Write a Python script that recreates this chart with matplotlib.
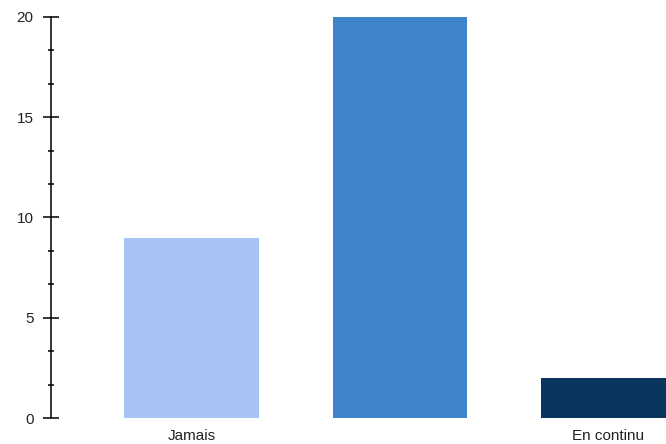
import matplotlib
matplotlib.use("Agg")
import matplotlib.pyplot as plt
from matplotlib.ticker import MultipleLocator

categories = ["Jamais", "", "En continu"]
values = [9, 20, 2]
colors = ["#A6C3F3", "#3F85C9", "#08365F"]

plt.rcParams['font.family'] = ['Liberation Sans', 'DejaVu Sans']

fig = plt.figure(figsize=(6.66, 4.44), dpi=100)
ax = fig.add_axes([51/666, 1 - 418/444, 1 - 51/666, (418 - 17)/444])

x = list(range(len(categories)))
ax.bar(x, values, width=0.647, color=colors)

ax.set_xlim(-0.674, 2.276)
ax.set_ylim(0, 20)
ax.set_xticks(x)
ax.set_xticklabels(categories, fontsize=11, color="#222222")
ax.tick_params(axis='x', length=0, pad=8)

ax.yaxis.set_major_locator(MultipleLocator(5))
ax.yaxis.set_minor_locator(MultipleLocator(5/3))
ax.tick_params(axis='y', which='major', direction='inout', length=11, width=1.1,
               labelsize=11, pad=7, labelcolor="#222222")
ax.tick_params(axis='y', which='minor', direction='inout', length=5, width=1.1)

for s in ['top', 'right', 'bottom']:
    ax.spines[s].set_visible(False)
ax.spines['left'].set_linewidth(1.1)

fig.savefig("out.png", dpi=100)
